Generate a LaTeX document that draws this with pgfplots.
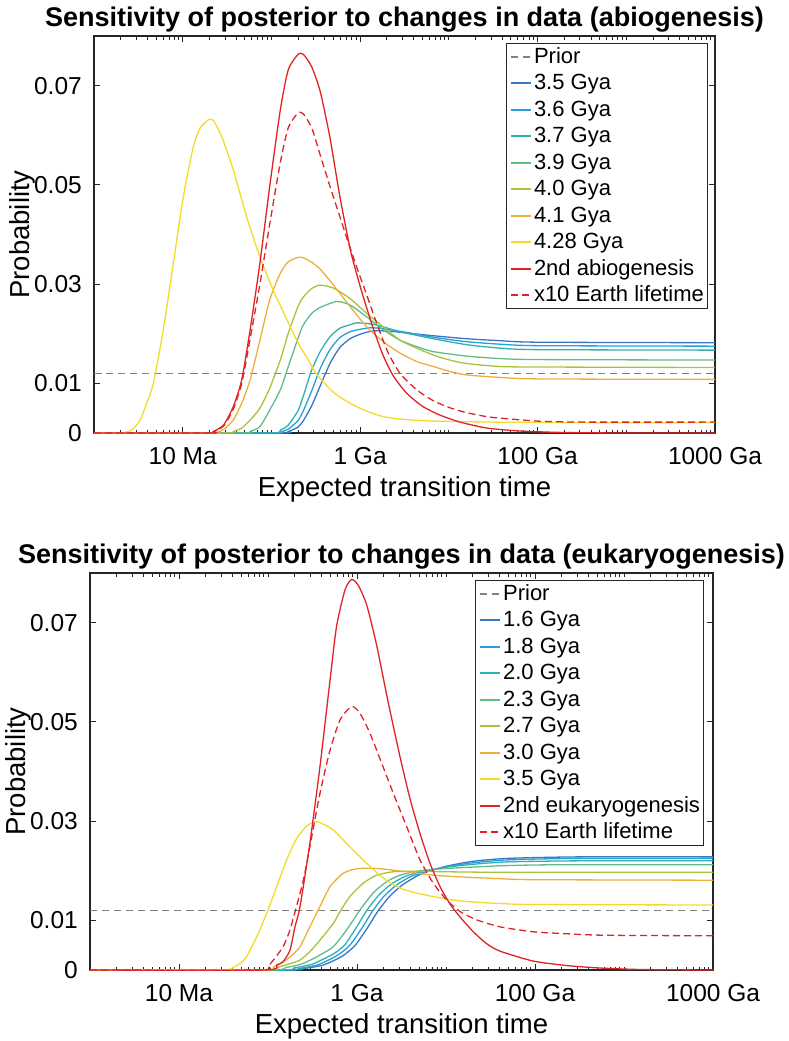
\documentclass[border=0pt]{standalone}
\usepackage{fontspec}
\setmainfont{Liberation Sans}
\usepackage{pgfplots}
\pgfplotsset{compat=1.18}

\definecolor{cA}{RGB}{57,118,196}
\definecolor{cB}{RGB}{40,160,215}
\definecolor{cC}{RGB}{46,176,180}
\definecolor{cD}{RGB}{98,188,138}
\definecolor{cE}{RGB}{165,196,60}
\definecolor{cF}{RGB}{236,176,58}
\definecolor{cG}{RGB}{245,218,40}
\definecolor{cR}{RGB}{225,35,35}
\definecolor{cP}{RGB}{128,128,128}
\definecolor{axcol}{RGB}{38,38,38}

\pgfplotsset{
  panel/.style={
    scale only axis, height=397pt,
    xmin=6, xmax=13, ymin=0, ymax=0.08,
    clip=false,
    xtick={7,9,11,13}, xticklabels={10 Ma,1 Ga,100 Ga,1000 Ga},
    minor xtick={6.30103,6.47712,6.60206,6.69897,6.77815,6.84510,6.90309,6.95424,
      7.30103,7.47712,7.60206,7.69897,7.77815,7.84510,7.90309,7.95424,8,
      8.30103,8.47712,8.60206,8.69897,8.77815,8.84510,8.90309,8.95424,
      9.30103,9.47712,9.60206,9.69897,9.77815,9.84510,9.90309,9.95424,10,
      10.30103,10.47712,10.60206,10.69897,10.77815,10.84510,10.90309,10.95424,
      11.30103,11.47712,11.60206,11.69897,11.77815,11.84510,11.90309,11.95424,12,
      12.30103,12.47712,12.60206,12.69897,12.77815,12.84510,12.90309,12.95424},
    ytick={0,0.01,0.03,0.05,0.07}, yticklabels={0,0.01,0.03,0.05,0.07},
    scaled y ticks=false,
    tick align=inside, tick pos=both,
    major tick length=6pt, minor tick length=3.5pt,
    axis line style={axcol, line width=1.1pt},
    every tick/.style={axcol, line width=0.9pt},
    tick label style={font=\fontsize{24.5}{29}\selectfont, text=black},
    xticklabel style={anchor=base, yshift=-31pt},
    yticklabel style={anchor=east, inner xsep=0pt, xshift=-12pt},
    xlabel={Expected transition time},
    ylabel={Probability},
    every axis x label/.style={at={(axis description cs:0.5,0)}, anchor=base, yshift=-63.7pt, font=\fontsize{27.5}{32}\selectfont},
    every axis y label/.style={at={(axis description cs:-0.115,0.5)}, rotate=90, anchor=center, font=\fontsize{27.5}{32}\selectfont},
    every axis title/.style={at={(axis description cs:0.5,1)}, anchor=base, yshift=10pt, font=\bfseries\fontsize{27}{32}\selectfont},
    legend cell align=left,
    legend style={anchor=north east, draw=axcol, line width=1pt, fill=white,
      font=\fontsize{22}{26}\selectfont, inner xsep=3.5pt, inner ysep=0pt,
      row sep=0pt, column sep=2pt,
      nodes={inner sep=0pt, text height=19.8pt, text depth=6.7pt}},
    legend image code/.code={\draw[#1, line width=2pt] (0pt,0pt) -- (20pt,0pt);},
    every axis plot/.append style={line width=1.3pt, smooth, tension=0.4},
  },
  prior/.style={cP, dash pattern=on 7pt off 5pt},
  rdash/.style={cR, dash pattern=on 7pt off 4pt},
}

\begin{document}
\begin{tikzpicture}
\useasboundingbox (0pt,0pt) rectangle (788pt,-1041pt);

% ---------------- top panel: abiogenesis ----------------
\begin{axis}[panel, at={(94pt,-433pt)}, anchor=south west, width=621pt,
  title={Sensitivity of posterior to changes in data (abiogenesis)},
  legend style={at={(axis description cs:0.9887,0.9824)}}]
\addplot[prior] coordinates {(6,0.0120) (13,0.0120)};
\addlegendentry{Prior}
\addplot[cA] coordinates {(6,0) (8.08,0) (8.19,0.0003) (8.30,0.0012) (8.36,0.0025) (8.454,0.0055) (8.55,0.0095) (8.66,0.0140) (8.77,0.0172) (8.886,0.0190) (9.0,0.0199) (9.12,0.0205) (9.224,0.0206) (9.337,0.0205) (9.45,0.0203) (9.825,0.0196) (10.2,0.0190) (10.577,0.0186) (11,0.0183) (13,0.0182)};
\addlegendentry{3.5 Gya}
\addplot[cB] coordinates {(6,0) (8.0,0) (8.10,0.0002) (8.19,0.0008) (8.30,0.0025) (8.36,0.0045) (8.454,0.0085) (8.55,0.0130) (8.66,0.0168) (8.77,0.0192) (8.886,0.0204) (9.0,0.0209) (9.11,0.0212) (9.224,0.0211) (9.45,0.0205) (9.825,0.0193) (10.2,0.0184) (10.577,0.0179) (11,0.0176) (13,0.0175)};
\addlegendentry{3.6 Gya}
\addplot[cC] coordinates {(6,0) (7.95,0) (8.10,0.0006) (8.19,0.0016) (8.30,0.0045) (8.36,0.0075) (8.454,0.0127) (8.55,0.0164) (8.66,0.0194) (8.77,0.0211) (8.886,0.0218) (8.96,0.0222) (9.11,0.0220) (9.26,0.0214) (9.45,0.0204) (9.825,0.0190) (10.2,0.0178) (10.577,0.0171) (11,0.0168) (13,0.0167)};
\addlegendentry{3.7 Gya}
\addplot[cD] coordinates {(6,0) (7.65,0) (7.76,0.0003) (7.87,0.0013) (7.98,0.0046) (8.10,0.0087) (8.19,0.0134) (8.30,0.0191) (8.36,0.0218) (8.454,0.0241) (8.55,0.0253) (8.736,0.0265) (8.886,0.0258) (9.074,0.0234) (9.26,0.0208) (9.45,0.0187) (9.638,0.0174) (9.825,0.0164) (10.2,0.0155) (10.577,0.0150) (11,0.0148) (13,0.0147)};
\addlegendentry{3.9 Gya}
\addplot[cE] coordinates {(6,0) (7.45,0) (7.57,0.0003) (7.665,0.0010) (7.76,0.0026) (7.87,0.0050) (7.98,0.0090) (8.10,0.0147) (8.19,0.0201) (8.30,0.0255) (8.36,0.0274) (8.454,0.0291) (8.548,0.0298) (8.70,0.0292) (8.886,0.0271) (9.074,0.0241) (9.26,0.0214) (9.45,0.0187) (9.638,0.0171) (9.825,0.0157) (10.01,0.0147) (10.2,0.0140) (10.577,0.0134) (11,0.0133) (13,0.0132)};
\addlegendentry{4.0 Gya}
\addplot[cF] coordinates {(6,0) (7.30,0) (7.40,0.0002) (7.46,0.0007) (7.57,0.0026) (7.665,0.0060) (7.76,0.0107) (7.87,0.0187) (7.98,0.0268) (8.10,0.0322) (8.19,0.0345) (8.30,0.0354) (8.36,0.0353) (8.454,0.0344) (8.55,0.0330) (8.70,0.0298) (8.886,0.0255) (9.074,0.0214) (9.26,0.0184) (9.45,0.0161) (9.638,0.0144) (9.825,0.0134) (10.01,0.0124) (10.2,0.0117) (10.577,0.0112) (11,0.0109) (13,0.0108)};
\addlegendentry{4.1 Gya}
\addplot[cG] coordinates {(6,0) (6.30,0) (6.425,0.0006) (6.52,0.0026) (6.594,0.0060) (6.669,0.0100) (6.781,0.0208) (6.894,0.0342) (7.007,0.0476) (7.12,0.0577) (7.195,0.0614) (7.289,0.0631) (7.345,0.0630) (7.44,0.0597) (7.57,0.0530) (7.72,0.0436) (7.87,0.0355) (8.02,0.0288) (8.21,0.0215) (8.32,0.0175) (8.40,0.0152) (8.51,0.0118) (8.70,0.0082) (8.886,0.0060) (9.074,0.0044) (9.26,0.0033) (9.45,0.0028) (9.825,0.0024) (10.5,0.0022) (11.5,0.0021) (13,0.0021)};
\addlegendentry{4.28 Gya}
\addplot[cR] coordinates {(6,0) (7.30,0) (7.345,0.0003) (7.46,0.0016) (7.57,0.0053) (7.665,0.0107) (7.76,0.0208) (7.87,0.0342) (7.98,0.0496) (8.10,0.0651) (8.19,0.0732) (8.30,0.0763) (8.36,0.0763) (8.454,0.0738) (8.55,0.0688) (8.66,0.0595) (8.77,0.0478) (8.886,0.0372) (8.96,0.0321) (9.036,0.0274) (9.149,0.0210) (9.26,0.0156) (9.374,0.0115) (9.525,0.0080) (9.71,0.0053) (9.90,0.0036) (10.126,0.0022) (10.427,0.0010) (10.8,0.0004) (11.3,0.0001) (12,0) (13,0)};
\addlegendentry{2nd abiogenesis}
\addplot[rdash] coordinates {(6,0) (7.30,0) (7.345,0.0002) (7.46,0.0014) (7.57,0.0048) (7.665,0.0100) (7.76,0.0190) (7.87,0.0300) (7.98,0.0420) (8.10,0.0545) (8.19,0.0615) (8.30,0.0645) (8.36,0.0643) (8.454,0.0615) (8.55,0.0560) (8.66,0.0497) (8.76,0.0442) (8.85,0.0393) (8.96,0.0335) (9.09,0.0270) (9.205,0.0212) (9.318,0.0161) (9.45,0.0120) (9.638,0.0087) (9.825,0.0065) (10.01,0.0051) (10.2,0.0041) (10.427,0.0033) (10.577,0.0030) (11,0.0024) (11.5,0.0022) (13,0.0022)};
\addlegendentry{x10 Earth lifetime}
\end{axis}

% ---------------- bottom panel: eukaryogenesis ----------------
\begin{axis}[panel, at={(90pt,-970pt)}, anchor=south west, width=623pt,
  title={Sensitivity of posterior to changes in data (eukaryogenesis)},
  legend style={at={(axis description cs:0.9856,0.9824)}}]
\addplot[prior] coordinates {(6,0.0120) (13,0.0120)};
\addlegendentry{Prior}
\addplot[cA] coordinates {(6,0) (8.2,0) (8.4,0.0003) (8.6,0.0009) (8.74,0.0019) (8.86,0.0031) (8.98,0.0050) (9.11,0.0083) (9.24,0.0120) (9.37,0.0149) (9.50,0.0170) (9.63,0.0185) (9.75,0.0196) (10.0,0.0209) (10.3,0.0219) (10.7,0.0225) (11.5,0.0228) (13,0.0228)};
\addlegendentry{1.6 Gya}
\addplot[cB] coordinates {(6,0) (8.15,0) (8.35,0.0003) (8.55,0.0010) (8.68,0.0020) (8.80,0.0032) (8.92,0.0050) (9.05,0.0083) (9.18,0.0120) (9.31,0.0150) (9.45,0.0172) (9.60,0.0188) (9.75,0.0197) (10.0,0.0208) (10.3,0.0216) (10.7,0.0222) (11.5,0.0225) (13,0.0225)};
\addlegendentry{1.8 Gya}
\addplot[cC] coordinates {(6,0) (8.1,0) (8.3,0.0004) (8.5,0.0012) (8.62,0.0022) (8.74,0.0033) (8.86,0.0050) (8.98,0.0082) (9.11,0.0120) (9.25,0.0152) (9.40,0.0175) (9.56,0.0190) (9.75,0.0199) (10.0,0.0207) (10.3,0.0213) (10.7,0.0218) (11.5,0.0220) (13,0.0220)};
\addlegendentry{2.0 Gya}
\addplot[cD] coordinates {(6,0) (8.0,0) (8.2,0.0005) (8.36,0.0011) (8.5,0.0022) (8.6,0.0032) (8.734,0.0047) (8.884,0.0081) (9.034,0.0121) (9.18,0.0155) (9.333,0.0178) (9.483,0.0191) (9.708,0.0200) (10.045,0.0205) (10.61,0.0210) (11.2,0.0212) (13,0.0212)};
\addlegendentry{2.3 Gya}
\addplot[cE] coordinates {(6,0) (7.95,0) (8.1,0.0005) (8.25,0.0013) (8.36,0.0020) (8.47,0.0037) (8.584,0.0060) (8.734,0.0094) (8.81,0.0118) (8.92,0.0148) (9.07,0.0175) (9.22,0.0191) (9.408,0.0198) (9.67,0.0199) (10.0,0.0198) (10.61,0.0197) (13,0.0197)};
\addlegendentry{2.7 Gya}
\addplot[cF] coordinates {(6,0) (7.95,0) (8.06,0.0006) (8.16,0.0015) (8.26,0.0028) (8.36,0.0047) (8.47,0.0087) (8.584,0.0128) (8.697,0.0168) (8.846,0.0195) (8.996,0.0204) (9.18,0.0205) (9.37,0.0202) (9.596,0.0197) (9.857,0.0191) (10.23,0.0187) (10.61,0.0184) (11,0.0182) (13,0.0181)};
\addlegendentry{3.0 Gya}
\addplot[cG] coordinates {(6,0) (7.50,0) (7.573,0.0002) (7.685,0.0013) (7.76,0.0027) (7.873,0.0067) (7.985,0.0114) (8.098,0.0168) (8.21,0.0222) (8.322,0.0265) (8.435,0.0290) (8.528,0.0299) (8.60,0.0296) (8.734,0.0282) (8.92,0.0248) (9.109,0.0215) (9.296,0.0185) (9.483,0.0165) (9.67,0.0155) (9.857,0.0148) (10.045,0.0142) (10.23,0.0138) (10.61,0.0134) (11,0.0132) (13,0.0131)};
\addlegendentry{3.5 Gya}
\addplot[cR] coordinates {(6,0) (7.95,0) (8.098,0.0010) (8.17,0.0017) (8.247,0.0040) (8.303,0.0087) (8.36,0.0128) (8.47,0.0255) (8.584,0.0410) (8.697,0.0584) (8.77,0.0692) (8.865,0.0766) (8.94,0.0787) (9.015,0.0775) (9.11,0.0735) (9.22,0.0655) (9.35,0.0540) (9.483,0.0430) (9.596,0.0345) (9.708,0.0275) (9.82,0.0215) (9.933,0.0168) (10.045,0.0133) (10.157,0.0107) (10.307,0.0077) (10.457,0.0053) (10.607,0.0038) (10.98,0.0018) (11.356,0.0009) (11.73,0.0004) (12.2,0.0001) (13,0)};
\addlegendentry{2nd eukaryogenesis}
\addplot[rdash] coordinates {(6,0) (7.90,0) (8.00,0.0008) (8.06,0.0020) (8.17,0.0047) (8.247,0.0081) (8.32,0.0128) (8.397,0.0181) (8.47,0.0248) (8.584,0.0356) (8.697,0.0443) (8.81,0.0504) (8.94,0.0531) (9.034,0.0517) (9.146,0.0477) (9.277,0.0417) (9.408,0.0356) (9.558,0.0289) (9.708,0.0222) (9.857,0.0175) (10.008,0.0141) (10.157,0.0118) (10.345,0.0101) (10.607,0.0087) (10.98,0.0077) (11.36,0.0073) (11.8,0.0070) (13,0.0069)};
\addlegendentry{x10 Earth lifetime}
\end{axis}
\end{tikzpicture}
\end{document}
